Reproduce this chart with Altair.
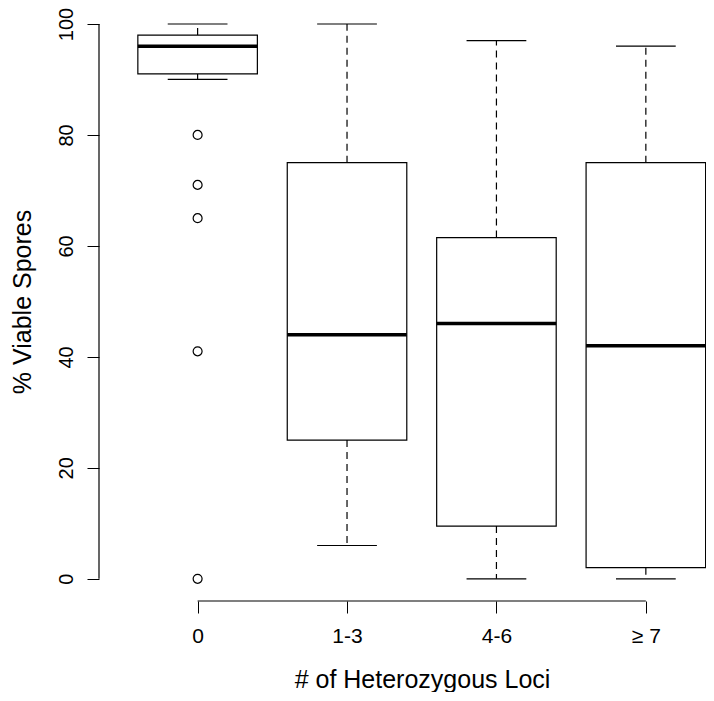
import altair as alt
import pandas as pd

# ---- data ----
groups = ["0", "1-3", "4-6", "≥ 7"]
whisker_low = [90, 6, 0, 0]
q1 = [91, 25, 9.5, 2]
median = [96, 44, 46, 42]
q3 = [98, 75, 61.5, 75]
whisker_high = [100, 100, 97, 96]
outlier_group = ["0", "0", "0", "0", "0"]
outlier_value = [80, 71, 65, 41, 0]
y_ticks = [0, 20, 40, 60, 80, 100]

# ---- tables ----
pos = [i + 1 for i in range(len(groups))]
BOX_HALF = 0.4
CAP_HALF = 0.2
box_df = pd.DataFrame({
    "group": groups, "pos": pos,
    "lo": whisker_low, "q1": q1, "med": median, "q3": q3, "hi": whisker_high,
})
box_df["left"] = box_df["pos"] - BOX_HALF
box_df["right"] = box_df["pos"] + BOX_HALF
box_df["cl"] = box_df["pos"] - CAP_HALF
box_df["cr"] = box_df["pos"] + CAP_HALF

whisk = pd.concat([
    pd.DataFrame({"pos": pos, "a": q3, "b": whisker_high}),
    pd.DataFrame({"pos": pos, "a": q1, "b": whisker_low}),
])
caps = pd.concat([
    box_df[["cl", "cr"]].assign(v=whisker_high),
    box_df[["cl", "cr"]].assign(v=whisker_low),
])
gpos = dict(zip(groups, pos))
out_df = pd.DataFrame({"pos": [gpos[g] for g in outlier_group], "v": outlier_value})

XMIN, XMAX = 0.34, 4.4026
YMIN, YMAX = -4, 102.88
axis_x_df = pd.DataFrame({"x": [pos[0]], "x2": [pos[-1]], "y": [YMIN]})
axis_y_df = pd.DataFrame({"x": [XMIN], "y": [y_ticks[0]], "y2": [y_ticks[-1]]})

W, H = 607, 593
FONT = "Liberation Sans"
xs = alt.Scale(domain=[XMIN, XMAX], nice=False, zero=False)
ys = alt.Scale(domain=[YMIN, YMAX], nice=False, zero=False)

label_js = "[" + ",".join("'" + g + "'" for g in groups) + "]"

xaxis = alt.Axis(
    values=pos, labelExpr=label_js + "[datum.value-1]",
    domain=False, grid=False, tickSize=12, tickColor="black", tickWidth=1,
    labelFontSize=21, labelColor="black", labelFont=FONT,
    labelBaseline="alphabetic", labelAlign="center", labelPadding=29,
    labelFlush=False, labelOverlap=False,
    title="# of Heterozygous Loci", titleFontSize=25, titleFontWeight="normal",
    titleColor="black", titleFont=FONT, titleX=323, titleY=86,
    titleBaseline="alphabetic", titleAlign="center",
)
yaxis = alt.Axis(
    values=y_ticks, domain=False, grid=False, tickSize=12, tickColor="black",
    tickWidth=1, labelAngle=270, labelAlign="center", labelBaseline="alphabetic",
    labelPadding=15, labelFontSize=20, labelColor="black", labelFont=FONT,
    labelFlush=False, labelOverlap=False,
    title="% Viable Spores", titleAngle=270, titleFontSize=25,
    titleFontWeight="normal", titleColor="black", titleFont=FONT,
    titleX=-69, titleY=293.5, titleBaseline="alphabetic", titleAlign="center",
)

boxes = alt.Chart(box_df).mark_rect(fill="white", stroke="black", strokeWidth=1.2).encode(
    x=alt.X("left:Q", scale=xs, axis=xaxis), x2="right:Q",
    y=alt.Y("q1:Q", scale=ys, axis=yaxis), y2="q3:Q",
)
whiskers = alt.Chart(whisk).mark_rule(color="black", strokeWidth=1.2, strokeDash=[7, 5]).encode(
    x=alt.X("pos:Q", scale=xs, axis=xaxis),
    y=alt.Y("a:Q", scale=ys, axis=yaxis), y2="b:Q",
)
cap_rules = alt.Chart(caps).mark_rule(color="black", strokeWidth=1.2).encode(
    x=alt.X("cl:Q", scale=xs, axis=xaxis), x2="cr:Q",
    y=alt.Y("v:Q", scale=ys, axis=yaxis),
)
medians = alt.Chart(box_df).mark_rule(color="black", strokeWidth=3.5).encode(
    x=alt.X("left:Q", scale=xs, axis=xaxis), x2="right:Q",
    y=alt.Y("med:Q", scale=ys, axis=yaxis),
)
outliers = alt.Chart(out_df).mark_point(
    shape="circle", filled=False, color="black", strokeWidth=1.2, size=80, opacity=1
).encode(
    x=alt.X("pos:Q", scale=xs, axis=xaxis),
    y=alt.Y("v:Q", scale=ys, axis=yaxis),
)
x_line = alt.Chart(axis_x_df).mark_rule(color="black", strokeWidth=1.2).encode(
    x=alt.X("x:Q", scale=xs, axis=xaxis), x2="x2:Q",
    y=alt.Y("y:Q", scale=ys, axis=yaxis),
)
y_line = alt.Chart(axis_y_df).mark_rule(color="black", strokeWidth=1.2).encode(
    x=alt.X("x:Q", scale=xs, axis=xaxis),
    y=alt.Y("y:Q", scale=ys, axis=yaxis), y2="y2:Q",
)

chart = alt.layer(boxes, whiskers, cap_rules, medians, outliers, x_line, y_line).properties(
    width=W, height=H,
    autosize=alt.AutoSizeParams(type="none"),
    padding={"left": 91, "top": 0, "right": 0, "bottom": 91},
    background="white",
).configure_view(stroke=None)

chart.save("out.html", embed_options={"renderer": "svg", "actions": False})
